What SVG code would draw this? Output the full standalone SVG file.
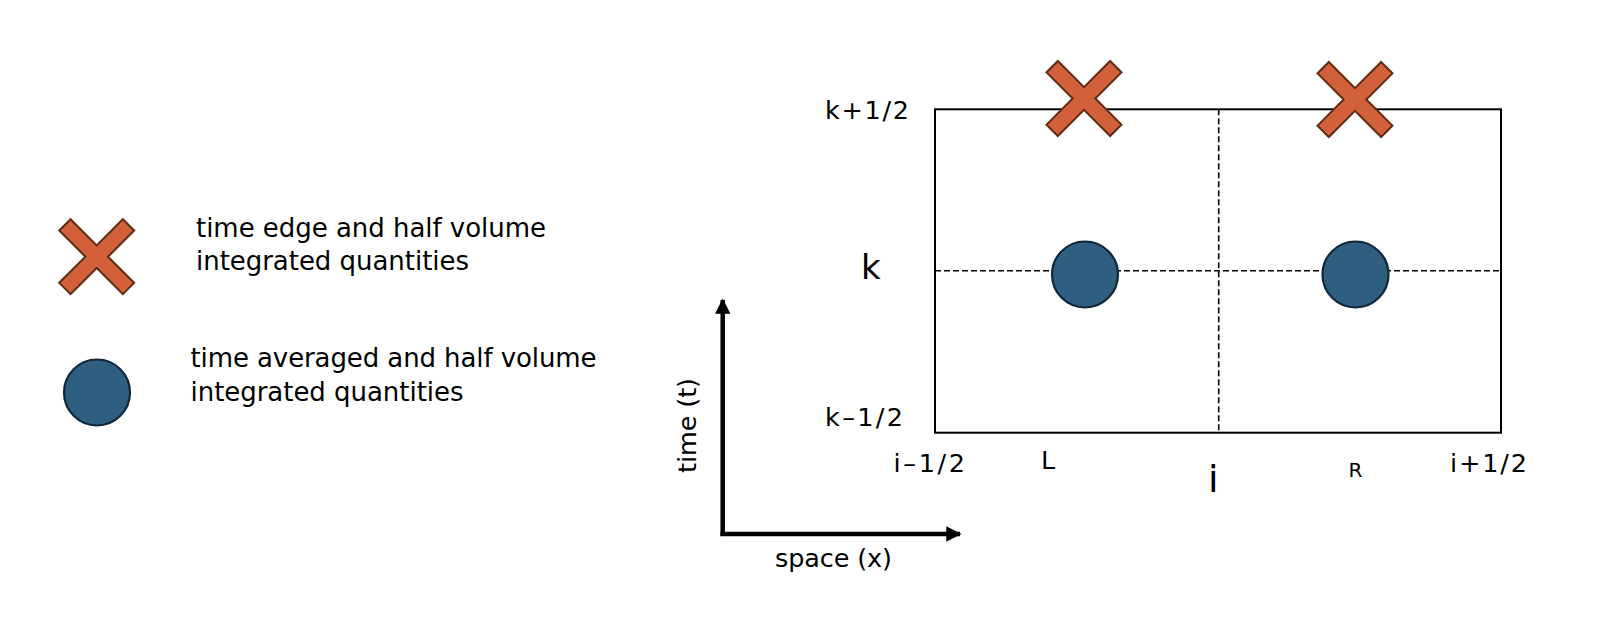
<svg xmlns="http://www.w3.org/2000/svg" width="1608" height="628" viewBox="0 0 1608 628">
<style>
text{font-family:"DejaVu Sans","Liberation Sans",sans-serif;fill:#000}
.lg{font-size:26px}
.lb{font-size:25.5px}
.cross{fill:#D2603A;stroke:#5E2C12;stroke-width:2;stroke-linejoin:miter}
.dot{fill:#2E5F80;stroke:#10273A;stroke-width:2.2}
.frame{fill:none;stroke:#000;stroke-width:2}
.dash{fill:none;stroke:#000;stroke-width:1.6;stroke-dasharray:6 3}
.axis{fill:none;stroke:#000;stroke-width:4.5}
</style>
<defs>
<path id="x" d="M -8,-45 H 8 V -8 H 45 V 8 H 8 V 45 H -8 V 8 H -45 V -8 H -8 Z" transform="rotate(45)"/>
<marker id="ah" viewBox="0 0 10 10" refX="9" refY="5" markerWidth="3.6" markerHeight="3.4" markerUnits="strokeWidth" orient="auto">
<path d="M0,0 L10,5 L0,10 Z" fill="#000"/>
</marker>
</defs>
<rect width="1608" height="628" fill="#fff"/>

<g id="legend-cross">
<use href="#x" class="cross" transform="translate(96.7,256.7)"/>
<text class="lg" x="196" y="236.7" textLength="350" lengthAdjust="spacing">time edge and half volume</text>
<text class="lg" x="196" y="270" textLength="273" lengthAdjust="spacing">integrated quantities</text>
</g>
<g id="legend-dot">
<circle class="dot" cx="97" cy="392.5" r="33"/>
<text class="lg" x="190.5" y="366.7" textLength="406" lengthAdjust="spacing">time averaged and half volume</text>
<text class="lg" x="190.5" y="401" textLength="273" lengthAdjust="spacing">integrated quantities</text>
</g>

<g id="grid">
<rect class="frame" x="935" y="109.3" width="566" height="323.4"/>
<line class="dash" x1="1218.7" y1="109.3" x2="1218.7" y2="432.7"/>
<line class="dash" x1="935" y1="270.7" x2="1501" y2="270.7"/>
</g>

<g id="cross-L"><use href="#x" class="cross" transform="translate(1084,98.5)"/></g>
<g id="cross-R"><use href="#x" class="cross" transform="translate(1355,99.5)"/></g>
<g id="dot-L"><circle class="dot" cx="1085" cy="274.5" r="33"/></g>
<g id="dot-R"><circle class="dot" cx="1355.5" cy="274.5" r="33"/></g>

<g id="labels">
<text class="lb" x="825" y="119.3" textLength="84" lengthAdjust="spacing">k+1/2</text>
<text x="861" y="279" font-size="34">k</text>
<text class="lb" x="825" y="426" textLength="78" lengthAdjust="spacing">k–1/2</text>
<text class="lb" x="893.5" y="471.7" textLength="71.5" lengthAdjust="spacing">i–1/2</text>
<text class="lb" x="1041" y="469.3">L</text>
<text x="1208" y="491.7" font-size="38">i</text>
<text x="1348.5" y="476.7" font-size="20">R</text>
<text class="lb" x="1450" y="471.7" textLength="77" lengthAdjust="spacing">i+1/2</text>
</g>

<g id="connectors">
<line class="axis" x1="722.7" y1="536" x2="722.7" y2="300" marker-end="url(#ah)"/>
<line class="axis" x1="720.5" y1="534" x2="960" y2="534" marker-end="url(#ah)"/>
</g>
<g id="axis-labels">
<text font-size="25.5" transform="translate(696,473) rotate(-90)" textLength="95" lengthAdjust="spacing">time (t)</text>
<text font-size="25.5" x="775" y="567.3" textLength="117" lengthAdjust="spacing">space (x)</text>
</g>
</svg>
